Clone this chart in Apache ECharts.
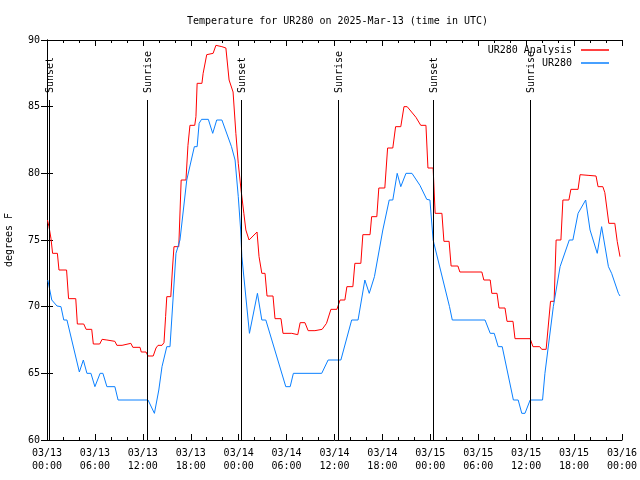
<!DOCTYPE html>
<html>
<head>
<meta charset="utf-8">
<script src="https://cdn.jsdelivr.net/npm/echarts@6/dist/echarts.min.js"></script>
<style>html,body{margin:0;padding:0;background:#fff}#c{width:640px;height:480px}</style>
</head>
<body>
<div id="c"></div>
<script>
// hours since 2025-03-13 00:00 UTC, temperature degrees F
const analysisHours = [0.06,0.25,0.5,0.7,1.3,1.5,2.45,2.7,3.6,3.8,4.6,4.9,5.6,5.8,6.6,6.9,7.5,7.65,8.5,8.75,9.4,9.65,10.5,10.75,11.65,11.8,12.4,12.65,13.3,13.65,13.9,14.4,14.65,14.85,15.0,15.5,15.7,15.9,16.5,16.8,17.4,17.65,17.9,18.5,18.65,18.8,19.4,19.55,20.0,20.8,21.15,21.9,22.4,22.8,23.05,23.3,23.65,23.95,24.3,24.65,24.9,25.3,26.3,26.55,26.9,27.3,27.55,28.3,28.55,29.3,29.55,30.65,30.7,31.4,31.7,32.3,32.7,33.55,33.8,34.45,35.0,35.55,36.3,36.7,37.3,37.55,38.3,38.55,39.3,39.55,40.45,40.65,41.3,41.55,42.3,42.65,43.3,43.65,44.3,44.7,45.1,46.2,46.8,47.45,47.7,48.35,48.6,49.45,49.7,50.35,50.6,51.45,51.7,54.45,54.7,55.5,55.7,56.35,56.6,57.35,57.6,58.35,58.6,60.5,60.85,61.7,61.95,62.5,62.7,63.05,63.5,63.75,64.35,64.6,65.35,65.6,66.5,66.75,67.75,68.75,69.0,69.6,69.85,70.35,71.1,71.4,71.75];
const analysisTemps = [76.5,76.0,75.1,74.0,74.0,72.75,72.75,70.6,70.6,68.7,68.7,68.3,68.3,67.2,67.2,67.55,67.5,67.4,67.4,67.1,67.1,67.25,67.25,66.95,66.95,66.6,66.6,66.3,66.3,66.9,67.1,67.1,67.3,69.25,70.75,70.75,72.75,74.5,74.5,79.5,79.5,82.1,83.6,83.6,84.25,86.75,86.75,87.5,88.9,89.0,89.6,89.5,89.4,87.0,87.0,86.1,83.0,80.75,78.75,77.0,75.75,75.0,75.6,73.75,72.5,72.5,70.8,70.8,69.1,69.1,68.0,68.0,67.9,67.9,68.8,68.8,68.2,68.2,68.3,68.3,68.75,69.8,69.8,70.5,70.5,71.5,71.5,73.25,73.25,75.4,75.4,76.75,76.75,78.9,78.9,81.9,81.9,83.5,83.5,85.0,85.0,84.2,83.6,83.6,80.4,80.4,77.0,77.0,74.9,74.9,73.05,73.05,72.6,72.6,72.0,72.0,71.0,71.0,69.9,69.9,68.9,68.9,67.6,67.6,67.0,67.0,66.8,66.8,68.1,70.4,70.4,75.0,75.0,78.0,78.0,78.8,78.8,79.9,79.85,79.8,79.0,79.0,78.55,76.25,76.25,74.9,73.75];

const obsHours = [0.1,0.6,1.25,1.75,2.1,2.5,4.05,4.55,5.0,5.5,6.0,6.65,7.0,7.5,8.5,8.9,12.65,13.45,14.0,14.4,15.0,15.4,16.15,16.65,17.5,18.45,18.8,19.05,19.35,20.2,20.75,21.25,21.9,23.1,23.55,23.95,24.25,24.4,25.35,26.35,26.9,27.4,29.9,30.45,30.85,34.4,35.2,36.8,38.15,38.95,39.8,40.35,41.0,42.05,42.85,43.3,43.85,44.3,44.95,45.7,46.7,47.55,47.95,48.35,48.45,50.4,50.75,54.85,55.5,56.0,56.5,57.0,58.4,59.0,59.45,59.85,60.5,62.05,62.35,63.4,64.25,65.4,65.85,66.5,66.75,67.45,68.0,68.9,69.45,70.3,70.7,71.55,71.75];
const obsTemps = [72.0,70.5,70.05,70.0,69.0,69.0,65.1,66.0,65.0,65.0,64.0,65.0,65.0,64.0,64.0,63.0,63.0,62.0,63.75,65.5,67.0,67.0,74.0,75.0,79.5,82.0,82.0,83.75,84.05,84.05,83.0,84.0,84.0,82.0,81.0,78.25,75.75,73.75,68.0,71.0,69.0,69.0,64.0,64.0,65.0,65.0,66.0,66.0,69.0,69.0,72.0,71.0,72.25,75.75,78.0,78.0,80.0,79.0,80.0,80.0,79.1,78.05,78.0,75.0,74.75,70.0,69.0,69.0,68.0,68.0,67.0,67.0,63.0,63.0,62.0,62.0,63.0,63.0,65.0,70.0,73.0,75.0,75.0,77.0,77.0,78.0,75.75,74.0,76.0,73.0,72.5,71.0,70.8];

const sunHours = [0.25, 12.5, 24.3, 36.45, 48.35, 60.5];
const sunLabels = ['Sunset','Sunrise','Sunset','Sunrise','Sunset','Sunrise'];

const xTickLabels = ['03/13\n00:00','03/13\n06:00','03/13\n12:00','03/13\n18:00','03/14\n00:00','03/14\n06:00','03/14\n12:00','03/14\n18:00','03/15\n00:00','03/15\n06:00','03/15\n12:00','03/15\n18:00','03/16\n00:00'];
const yTicks = [60,65,70,75,80,85,90];

const FONT = 'DejaVu Sans Mono';
const pair = (xs, ys) => xs.map((x, i) => [x, ys[i]]);

const chart = echarts.init(document.getElementById('c'), null, {renderer: 'canvas'});
const axisLine = {show: true, lineStyle: {color: '#000', width: 1}};
const tick = {show: true, inside: true, length: 6, lineStyle: {color: '#000'}};
const minorTick = {show: true, splitNumber: 3, length: 3, lineStyle: {color: '#000'}};
chart.setOption({
  animation: false,
  backgroundColor: '#fff',
  title: {
    text: 'Temperature for UR280 on 2025-Mar-13 (time in UTC)',
    left: 182, top: 11,
    textStyle: {fontFamily: FONT, fontSize: 10, fontWeight: 'normal', color: '#000'}
  },
  legend: {
    orient: 'vertical', right: 26, top: 40, align: 'right',
    itemWidth: 28, itemHeight: 1.5, itemGap: 3, icon: 'rect',
    textStyle: {fontFamily: FONT, fontSize: 10, color: '#000', padding: [0, 4, 0, 0]},
    data: ['UR280 Analysis', 'UR280']
  },
  grid: {left: 47, right: 18, top: 40, bottom: 40, outerBoundsMode: 'none', containLabel: false},
  xAxis: [{
    type: 'value', min: 0, max: 72, interval: 6, position: 'bottom',
    axisLine, axisTick: tick, minorTick, splitLine: {show: false},
    axisLabel: {
      fontFamily: FONT, fontSize: 10, color: '#000', lineHeight: 13, margin: 7,
      formatter: v => xTickLabels[Math.round(v / 6)]
    }
  }, {
    type: 'value', min: 0, max: 72, interval: 6, position: 'top',
    axisLine, axisTick: tick, minorTick, splitLine: {show: false}, axisLabel: {show: false}
  }],
  yAxis: [{
    type: 'value', min: yTicks[0], max: yTicks[yTicks.length - 1], interval: 5, position: 'left',
    name: 'degrees F', nameLocation: 'middle', nameGap: 33, nameRotate: 90,
    nameTextStyle: {fontFamily: FONT, fontSize: 10, color: '#000'},
    axisLine, axisTick: tick, splitLine: {show: false},
    axisLabel: {fontFamily: FONT, fontSize: 10, color: '#000', margin: 7}
  }, {
    type: 'value', min: yTicks[0], max: yTicks[yTicks.length - 1], interval: 5, position: 'right',
    axisLine, axisTick: tick, splitLine: {show: false}, axisLabel: {show: false}
  }],
  series: [{
    name: 'UR280 Analysis', type: 'line', data: pair(analysisHours, analysisTemps),
    showSymbol: false, symbol: 'none', color: '#ff0000', lineStyle: {width: 1, color: '#ff0000'}, z: 3
  }, {
    name: 'UR280', type: 'line', data: pair(obsHours, obsTemps),
    showSymbol: false, symbol: 'none', color: '#0a80ff', lineStyle: {width: 1, color: '#0a80ff'}, z: 3
  }, {
    name: 'sun', type: 'custom', z: 5,
    data: sunHours.map((h, i) => [h, sunLabels[i]]),
    renderItem: (params, api) => {
      const h = api.value(0);
      const bottom = api.coord([h, 60]);
      const top = api.coord([h, 85.5]);
      const x = Math.round(bottom[0]) + 0.5;
      return {
        type: 'group',
        children: [{
          type: 'line',
          shape: {x1: x, y1: bottom[1], x2: x, y2: top[1]},
          style: {stroke: '#000', lineWidth: 1}
        }, {
          type: 'text',
          x: x + 1, y: top[1] - 7,
          rotation: Math.PI / 2,
          style: {
            text: sunLabels[params.dataIndex], fontFamily: FONT, fontSize: 10, fill: '#000',
            align: 'left', verticalAlign: 'middle'
          }
        }]
      };
    }
  }]
});
</script>
</body>
</html>
